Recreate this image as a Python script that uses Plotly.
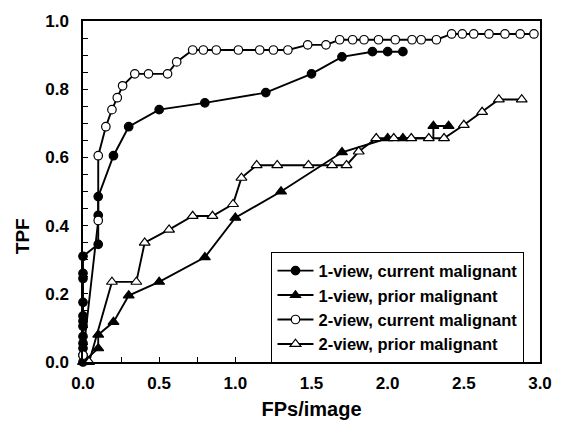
import plotly.graph_objects as go

# FROC curves: true-positive fraction vs false positives per image
cur1_x = [0, 0, 0, 0, 0, 0, 0, 0, 0, 0, 0, 0,
          0.1, 0.1, 0.1, 0.2, 0.3, 0.5, 0.8, 1.2, 1.5, 1.7, 1.9, 2.0, 2.1]
cur1_y = [0.0, 0.02, 0.04, 0.055, 0.075, 0.105, 0.12, 0.135, 0.175, 0.245, 0.26, 0.31,
          0.345, 0.43, 0.485, 0.605, 0.69, 0.74, 0.76, 0.79, 0.845, 0.895, 0.91, 0.91, 0.91]

pri1_x = [0, 0.1, 0.1, 0.2, 0.3, 0.5, 0.8, 1.0, 1.3, 1.7, 2.0, 2.1, 2.3, 2.3, 2.4]
pri1_y = [0.0, 0.04, 0.08, 0.117, 0.195, 0.235, 0.307, 0.423, 0.5, 0.615,
          0.656, 0.656, 0.656, 0.692, 0.692]
pri1_shown = [1, 1, 1, 1, 1, 1, 1, 1, 1, 1, 1, 1, 0, 1, 1]

cur2_x = [0, 0.1, 0.1, 0.15, 0.19, 0.225, 0.26, 0.34, 0.43, 0.555, 0.615, 0.72, 0.79,
          0.875, 1.02, 1.16, 1.25, 1.345, 1.475, 1.595, 1.685, 1.77, 1.845, 1.94, 2.05,
          2.16, 2.22, 2.32, 2.42, 2.49, 2.565, 2.665, 2.77, 2.87, 2.96]
cur2_y = [0.02, 0.415, 0.605, 0.69, 0.74, 0.775, 0.81, 0.845, 0.845, 0.845, 0.88, 0.915,
          0.915, 0.915, 0.915, 0.915, 0.915, 0.915, 0.93, 0.93, 0.945, 0.945, 0.945, 0.945,
          0.945, 0.945, 0.945, 0.945, 0.962, 0.962, 0.962, 0.962, 0.962, 0.962, 0.962]

pri2_x = [0.04, 0.19, 0.35, 0.405, 0.565, 0.72, 0.85, 0.985, 1.04, 1.14, 1.275, 1.48,
          1.635, 1.73, 1.81, 1.925, 2.04, 2.155, 2.27, 2.37, 2.5, 2.62, 2.73, 2.88]
pri2_y = [0.0, 0.235, 0.235, 0.35, 0.388, 0.428, 0.428, 0.463, 0.54, 0.577, 0.577, 0.577,
          0.577, 0.577, 0.617, 0.656, 0.656, 0.656, 0.656, 0.656, 0.695, 0.733, 0.77, 0.77]

names = ["1-view, current malignant", "1-view, prior malignant",
         "2-view, current malignant", "2-view, prior malignant"]

FONT = "Liberation Sans, Arial, Helvetica, sans-serif"
MS = 8.5

traces = {}


def make(xs, ys, name, symbol, fill, size=MS):
    traces[name] = go.Scatter(
        x=xs, y=ys, name=name, mode="lines+markers", cliponaxis=False,
        line=dict(color="black", width=1.9),
        marker=dict(symbol=symbol, size=size, opacity=1,
                    color="black" if fill else "white",
                    line=dict(color="black", width=1.2)),
    )


make(cur1_x, cur1_y, names[0], "circle", True)
make(pri1_x, pri1_y, names[1], "triangle-up", True, [s * (MS + 1) for s in pri1_shown])
make(cur2_x, cur2_y, names[2], "circle", False)
make(pri2_x, pri2_y, names[3], "triangle-up", False, MS + 1)

fig = go.Figure([traces[n] for n in names])

tick_font = dict(family=FONT, size=17, color="black", weight="bold")
axis_common = dict(
    showline=True, linecolor="black", linewidth=1.5, mirror=True,
    ticks="inside", ticklen=5, tickwidth=1, tickcolor="black",
    showgrid=False, zeroline=False, tickfont=tick_font,
)

fig.update_layout(
    xaxis=dict(range=[0, 3], dtick=0.5, tickformat=".1f", ticklabelstandoff=5,
               minor=dict(dtick=0.25, ticks="inside", ticklen=5, tickcolor="black"),
               title=dict(text="FPs/image", standoff=10,
                          font=dict(family=FONT, size=20, color="black", weight="bold")),
               **axis_common),
    yaxis=dict(range=[0, 1], dtick=0.2, tickformat=".1f", ticklabelstandoff=9,
               minor=dict(dtick=0.05, ticks="inside", ticklen=5, tickcolor="black"),
               **axis_common),
    # tick marks along the top and right frame edges
    xaxis2=dict(overlaying="x", side="top", range=[0, 3], dtick=0.25, ticks="inside",
                ticklen=5, tickcolor="black", showticklabels=False, showgrid=False,
                zeroline=False, showline=False),
    yaxis2=dict(overlaying="y", side="right", range=[0, 1], dtick=0.05, ticks="inside",
                ticklen=5, tickcolor="black", showticklabels=False, showgrid=False,
                zeroline=False, showline=False),
)

fig.add_annotation(text="TPF", xref="paper", yref="paper", x=-0.16, y=0.37,
                   textangle=-90, showarrow=False,
                   font=dict(family=FONT, size=19, color="black", weight="bold"))

fig.update_layout(
    width=564, height=433,
    margin=dict(l=83, r=21, t=16, b=71),
    paper_bgcolor="white", plot_bgcolor="white",
    showlegend=True,
    legend=dict(x=0.412, y=0.322, xanchor="left", yanchor="top",
                traceorder="normal", bordercolor="black", borderwidth=1.2,
                bgcolor="white", tracegroupgap=0, itemwidth=36,
                font=dict(family=FONT, size=16.5, color="black", weight="bold")),
)

fig.write_html("out.html")
